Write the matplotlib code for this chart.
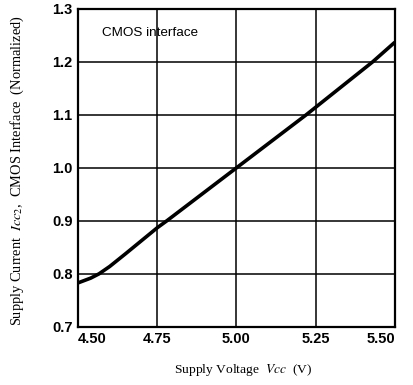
from matplotlib import pyplot as plt

plt.rcParams['mathtext.fontset'] = 'stix'

# Values
voltage = [4.50, 4.54, 4.566, 4.60, 4.65, 4.75, 4.78, 5.00, 5.22, 5.43, 5.50]
current = [0.783, 0.792, 0.800, 0.814, 0.838, 0.887, 0.900, 1.000, 1.100, 1.200, 1.237]

x_ticks = [4.50, 4.75, 5.00, 5.25, 5.50]
x_labels = ['4.50', '4.75', '5.00', '5.25', '5.50']
y_ticks = [0.7, 0.8, 0.9, 1.0, 1.1, 1.2, 1.3]
y_labels = ['0.7', '0.8', '0.9', '1.0', '1.1', '1.2', '1.3']

fig = plt.figure(figsize=(4.13, 3.85), dpi=100)
ax = fig.add_axes([0.189, 0.151, 0.767, 0.826])

ax.plot(voltage, current, color='black', linewidth=2.6, solid_capstyle='butt')

ax.set_xlim(4.50, 5.50)
ax.set_ylim(0.7, 1.3)
ax.set_xticks(x_ticks)
ax.set_yticks(y_ticks)
ax.set_xticklabels(x_labels, fontfamily='Liberation Sans', fontweight='bold', fontsize=10.5)
ax.set_yticklabels(y_labels, fontfamily='Liberation Sans', fontweight='bold', fontsize=10.5)
ax.tick_params(length=0, pad=4)
ax.get_xticklabels()[0].set_horizontalalignment('left')
ax.get_xticklabels()[-1].set_horizontalalignment('right')

ax.grid(True, color='black', linewidth=1.1)
for s in ax.spines.values():
    s.set_linewidth(1.6)

ax.text(4.575, 1.254, 'CMOS interface', fontfamily='Liberation Sans', fontsize=9.7,
        va='center', ha='left')

ax.set_xlabel('Supply Voltage  $\\mathit{Vcc}$  (V)', fontfamily='Liberation Serif',
              fontsize=9.7)
ax.set_ylabel('Supply Current  $\\mathit{Icc_2}$,  CMOS Interface  (Normalized)',
              fontfamily='Liberation Serif', fontsize=10.4)
ax.xaxis.set_label_coords(0.52, -0.11)
ax.yaxis.set_label_coords(-0.165, 0.49)

fig.savefig('out.png', dpi=100)
